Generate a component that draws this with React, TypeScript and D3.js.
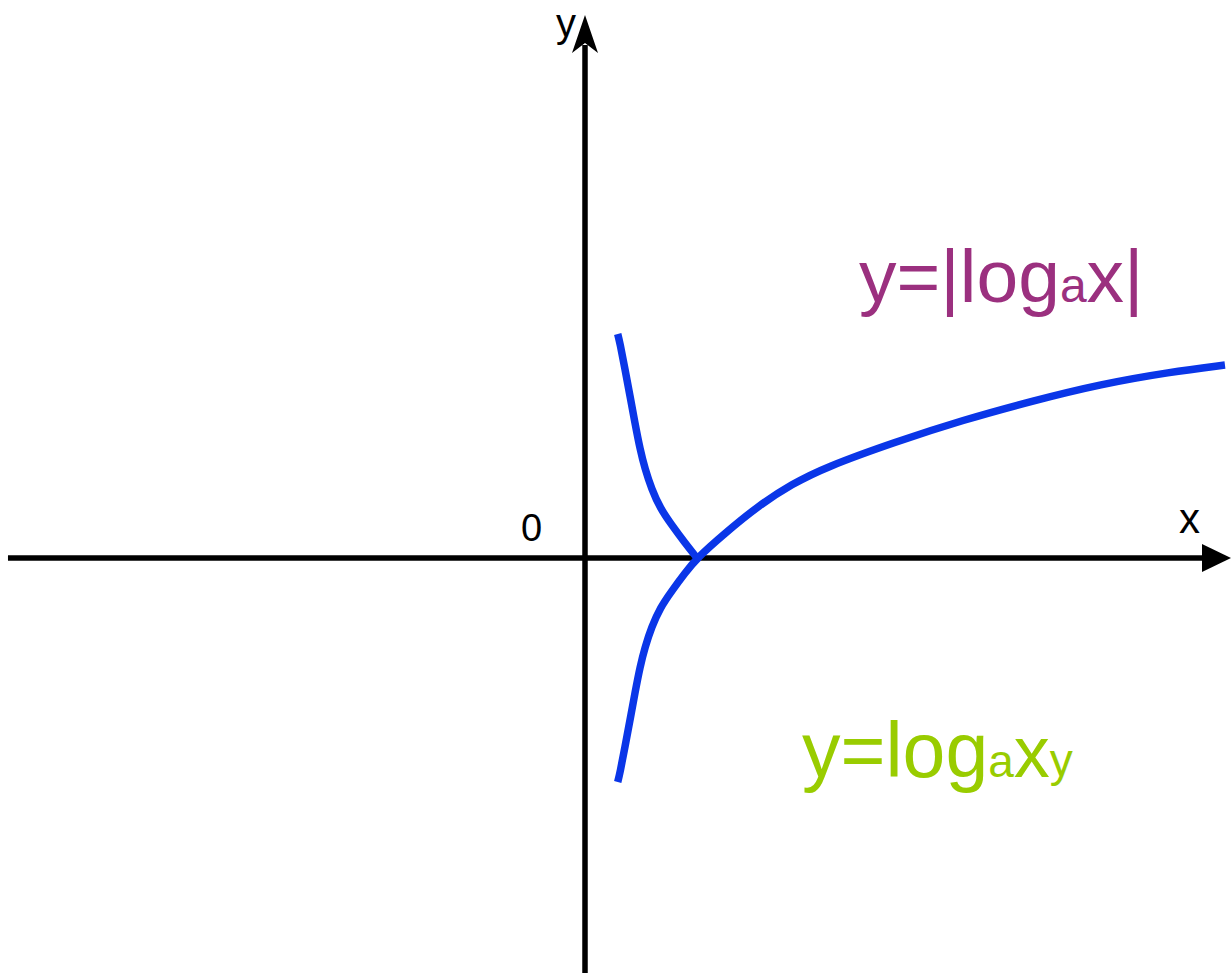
import React from "react";
import * as d3 from "d3";

// Curve y = log_a x (x unit = distance 0→1 on the x axis)
const logX = [0.292, 0.312, 0.357, 0.402, 0.446, 0.491, 0.536, 0.595, 0.670, 0.774, 0.893, 1.0, 1.241, 1.545, 1.848, 2.152, 2.768, 3.375, 3.991, 4.607, 5.223, 5.714];
const logY = [-2.24, -2.15, -1.89, -1.62, -1.35, -1.09, -0.89, -0.69, -0.50, -0.33, -0.15, 0.0, 0.24, 0.52, 0.74, 0.91, 1.16, 1.38, 1.57, 1.74, 1.86, 1.93];

const axisLabels = { x: "x", y: "y", origin: "0" };
const absLabel = ["y=|log", "a", "x|"];
const logLabel = ["y=log", "a", "x", "y"];

const W = 1231;
const H = 973;
const FONT = "'Liberation Sans', Arial, Helvetica, sans-serif";

export default function App() {
  const x = d3.scaleLinear().domain([0, 1]).range([585, 697]);
  const y = d3.scaleLinear().domain([0, 1]).range([558, 458]);

  const logPts: [number, number][] = logX.map((v, i) => [v, logY[i]]);
  const absPts: [number, number][] = logPts.filter((p) => p[0] <= 1).map((p) => [p[0], Math.abs(p[1])]);

  const line = d3
    .line<[number, number]>()
    .x((d) => x(d[0]))
    .y((d) => y(d[1]))
    .curve(d3.curveBasis);

  const x0 = x(0);
  const y0 = y(0);
  const xLeft = x(-5.152);
  const xArrowBase = 1202;
  const xTip = 1231;
  const yTop = 15;

  const blue = "#0a36e8";
  const purple = "#9b307f";
  const green = "#99cc00";

  return (
    <svg width={W} height={H} style={{ position: "absolute", left: 0, top: 0, background: "#fff" }}>
      {/* x axis */}
      <line x1={xLeft} y1={y0} x2={xArrowBase + 2} y2={y0} stroke="#000" strokeWidth={5.5} />
      <path d={`M${xArrowBase},${y0 - 14} L${xTip},${y0} L${xArrowBase},${y0 + 14} Z`} fill="#000" />
      {/* y axis */}
      <line x1={x0} y1={H} x2={x0} y2={yTop + 30} stroke="#000" strokeWidth={5.5} />
      <path d={`M${x0},${yTop} L${x0 + 13},${yTop + 38} L${x0},${yTop + 28} L${x0 - 13},${yTop + 38} Z`} fill="#000" />

      {/* curves */}
      <path d={line(logPts) || ""} fill="none" stroke={blue} strokeWidth={7.5} />
      <path d={line(absPts) || ""} fill="none" stroke={blue} strokeWidth={7.5} />

      {/* axis labels */}
      <text x={1179} y={533} fontFamily={FONT} fontSize={42} fill="#000">{axisLabels.x}</text>
      <text x={556} y={37} fontFamily={FONT} fontSize={40} fill="#000">{axisLabels.y}</text>
      <text x={521} y={541} fontFamily={FONT} fontSize={38} fill="#000">{axisLabels.origin}</text>

      {/* formula labels */}
      <text x={859} y={302} fontFamily={FONT} fill={purple}>
        <tspan fontSize={75}>{absLabel[0]}</tspan>
        <tspan fontSize={48}>{absLabel[1]}</tspan>
        <tspan fontSize={75}>{absLabel[2]}</tspan>
      </text>
      <text x={802} y={777} fontFamily={FONT} fill={green}>
        <tspan fontSize={77}>{logLabel[0]}</tspan>
        <tspan fontSize={46}>{logLabel[1]}</tspan>
        <tspan fontSize={72}>{logLabel[2]}</tspan>
        <tspan fontSize={46} dy={-1}>{logLabel[3]}</tspan>
      </text>
    </svg>
  );
}
